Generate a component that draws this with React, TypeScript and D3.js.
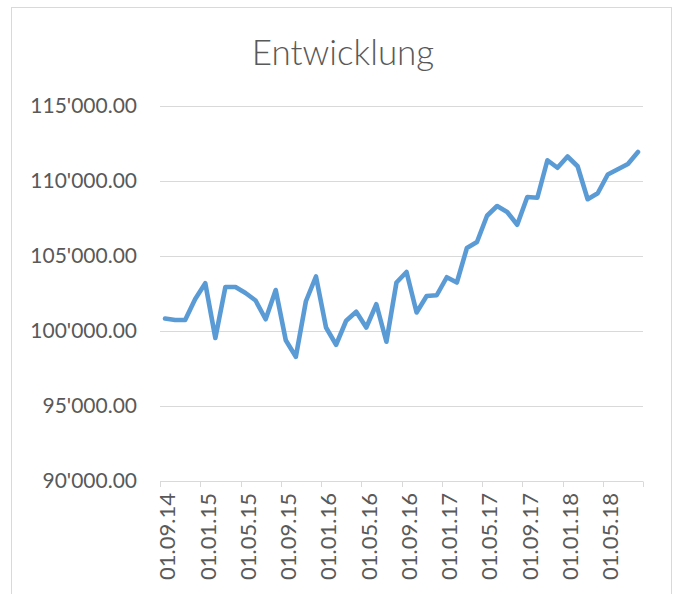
import React from 'react';
import * as d3 from 'd3';

// monthly values, Sep 2014 .. Aug 2018
const values = [
  100800, 100700, 100700, 102100, 103150, 99500, 102900, 102900, 102500, 102000,
  100750, 102700, 99350, 98250, 101950, 103600, 100200, 99050, 100650, 101250,
  100200, 101750, 99250, 103200, 103900, 101200, 102300, 102350, 103550, 103200,
  105500, 105900, 107650, 108300, 107900, 107050, 108900, 108850, 111350, 110850,
  111600, 110950, 108750, 109150, 110400, 110750, 111100, 111900,
];

const tickLabels = [
  '01.09.14', '01.01.15', '01.05.15', '01.09.15', '01.01.16', '01.05.16',
  '01.09.16', '01.01.17', '01.05.17', '01.09.17', '01.01.18', '01.05.18',
];
const yTicks = [90000, 95000, 100000, 105000, 110000, 115000];

const W = 675;
const H = 594;
const font = 'Lato, Carlito, Calibri, sans-serif';
const textColor = '#595959';
const gridColor = '#d9d9d9';

const fmt = d3.formatLocale({ decimal: '.', thousands: "'", grouping: [3], currency: ['', ''] }).format(',.2f');

const App: React.FC = () => {
  const x = d3.scaleLinear().domain([0, 48]).range([160, 643]);
  const y = d3.scaleLinear().domain([90000, 115000]).range([480.5, 105.5]);

  const line = d3.line<number>()
    .x((d, i) => x(i + 0.5))
    .y(d => y(d));

  const tickMonths = d3.range(0, 49, 4);

  return (
    <svg width={W} height={H} style={{ position: 'absolute', left: 0, top: 0, background: '#fff' }}>
      <rect x={11.5} y={7.5} width={660} height={600} fill="#fff" stroke={gridColor} strokeWidth={1} />

      <text x={343} y={65} textAnchor="middle" fill={textColor} fontFamily={font} fontWeight={300} fontSize={35}>
        Entwicklung
      </text>

      {yTicks.map(t => (
        <g key={t}>
          {t !== 90000 && (
            <line x1={160} x2={643} y1={Math.round(y(t)) + 0.5} y2={Math.round(y(t)) + 0.5} stroke={gridColor} strokeWidth={1} />
          )}
          <text x={137} y={y(t)} dy="0.36em" textAnchor="end" fill={textColor} fontFamily={font} fontSize={21}>
            {fmt(t)}
          </text>
        </g>
      ))}

      {/* x axis */}
      <line x1={160} x2={643} y1={481.5} y2={481.5} stroke={gridColor} strokeWidth={1} />
      {tickMonths.map(m => (
        <line key={m} x1={Math.round(x(m)) + 0.5} x2={Math.round(x(m)) + 0.5} y1={481.5} y2={487} stroke={gridColor} strokeWidth={1} />
      ))}
      {tickLabels.map((lbl, i) => {
        const cx = x(i * 4 + 0.5) + 2.5;
        return (
          <text key={lbl} transform={`translate(${cx},493) rotate(-90)`} dy="0.36em" textAnchor="end"
            fill={textColor} fontFamily={font} fontSize={22}>
            {lbl}
          </text>
        );
      })}

      <path d={line(values) ?? ''} fill="none" stroke="#5b9bd5" strokeWidth={4.6} strokeLinejoin="round" strokeLinecap="round" />
    </svg>
  );
};

export default App;
